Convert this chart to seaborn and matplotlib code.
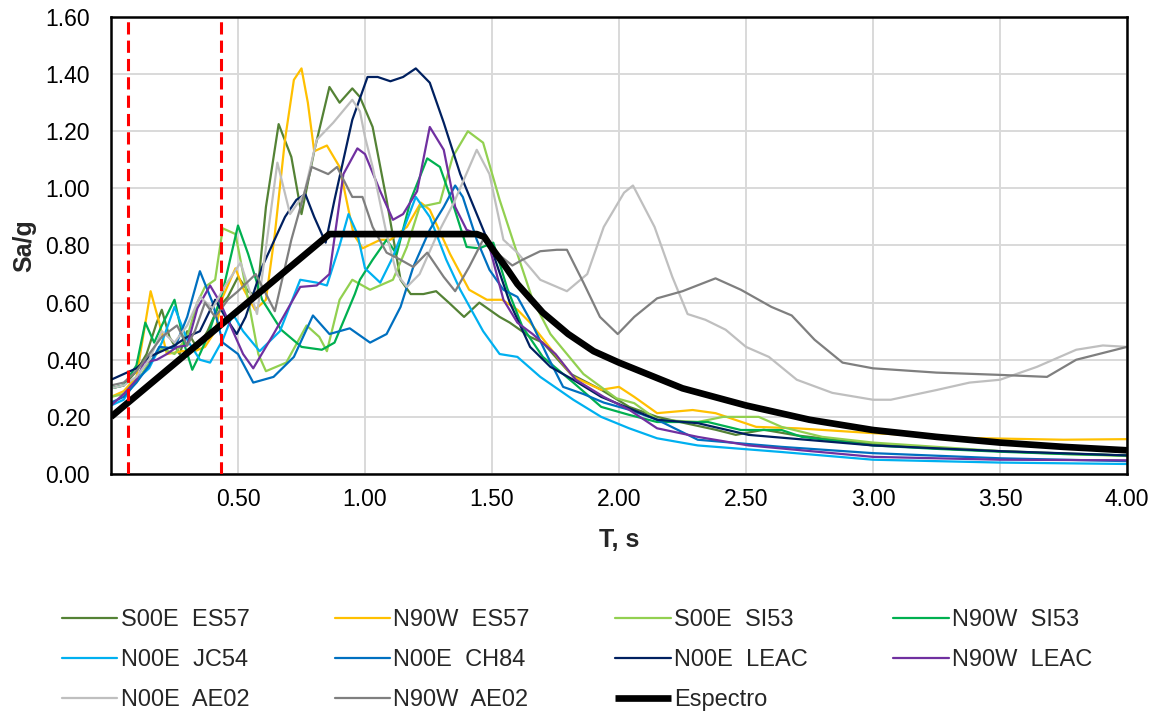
import numpy as np
import pandas as pd
import matplotlib
matplotlib.use("Agg")
import matplotlib.pyplot as plt
import seaborn as sns

# ---------------- data ----------------
names = ["S00E  ES57", "N90W  ES57", "S00E  SI53", "N90W  SI53", "N00E  JC54",
         "N00E  CH84", "N00E  LEAC", "N90W  LEAC", "N00E  AE02", "N90W  AE02"]
colors = ["#548235", "#FFC000", "#92D050", "#00B050", "#00B0F0",
          "#0070C0", "#002060", "#7030A0", "#BFBFBF", "#7F7F7F"]

t_es57_s = [0, 0.05, 0.10, 0.14, 0.18, 0.20, 0.23, 0.27, 0.30, 0.34, 0.38, 0.42, 0.46, 0.50, 0.54, 0.575,
            0.61, 0.66, 0.71, 0.75, 0.80, 0.86, 0.90, 0.95, 0.98, 1.03, 1.085, 1.14, 1.18, 1.23, 1.28,
            1.33, 1.39, 1.45, 1.53, 1.57, 1.65, 1.70, 1.81, 1.93, 2.04, 2.15, 2.25, 2.38, 2.46, 2.57,
            2.70, 2.85, 3.0, 3.25, 3.5, 3.75, 4.0]
sa_es57_s = [0.30, 0.31, 0.36, 0.42, 0.53, 0.575, 0.48, 0.42, 0.50, 0.44, 0.50, 0.58, 0.62, 0.69, 0.64, 0.62,
             0.935, 1.225, 1.11, 0.91, 1.13, 1.355, 1.30, 1.35, 1.32, 1.215, 0.96, 0.68, 0.63, 0.63, 0.64,
             0.60, 0.55, 0.60, 0.55, 0.53, 0.48, 0.46, 0.35, 0.295, 0.235, 0.20, 0.18, 0.155, 0.137, 0.155,
             0.135, 0.12, 0.105, 0.09, 0.08, 0.072, 0.065]

t_es57_n = [0, 0.05, 0.10, 0.13, 0.156, 0.19, 0.22, 0.28, 0.33, 0.37, 0.41, 0.44, 0.49, 0.52, 0.567, 0.61,
            0.645, 0.685, 0.72, 0.75, 0.775, 0.80, 0.85, 0.90, 0.955, 0.99, 1.06, 1.10, 1.165, 1.22, 1.255,
            1.335, 1.41, 1.48, 1.54, 1.60, 1.65, 1.73, 1.82, 1.93, 2.0, 2.06, 2.15, 2.29, 2.38, 2.54,
            2.70, 3.0, 3.38, 3.75, 4.0]
sa_es57_n = [0.27, 0.29, 0.34, 0.50, 0.64, 0.53, 0.42, 0.43, 0.43, 0.445, 0.50, 0.62, 0.72, 0.65, 0.575, 0.61,
             0.84, 1.17, 1.38, 1.42, 1.30, 1.13, 1.15, 1.075, 0.84, 0.79, 0.82, 0.82, 0.865, 0.95, 0.925,
             0.77, 0.645, 0.61, 0.61, 0.575, 0.53, 0.44, 0.34, 0.295, 0.305, 0.27, 0.213, 0.224, 0.213, 0.165,
             0.16, 0.143, 0.126, 0.12, 0.122]

t_si53_s = [0, 0.05, 0.10, 0.15, 0.20, 0.25, 0.30, 0.34, 0.37, 0.41, 0.44, 0.465, 0.49, 0.54, 0.58, 0.61,
            0.69, 0.77, 0.82, 0.85, 0.90, 0.95, 1.02, 1.11, 1.165, 1.215, 1.295, 1.345, 1.405, 1.465, 1.53,
            1.60, 1.66, 1.73, 1.86, 1.99, 2.06, 2.15, 2.31, 2.41, 2.55, 2.64, 2.80, 3.0, 3.25, 3.5, 3.75, 4.0]
sa_si53_s = [0.27, 0.28, 0.32, 0.39, 0.44, 0.42, 0.48, 0.60, 0.655, 0.68, 0.86, 0.85, 0.84, 0.61, 0.42, 0.36,
             0.39, 0.52, 0.48, 0.43, 0.61, 0.68, 0.645, 0.68, 0.795, 0.935, 0.95, 1.11, 1.20, 1.16, 0.96,
             0.77, 0.61, 0.49, 0.35, 0.265, 0.248, 0.19, 0.182, 0.20, 0.20, 0.165, 0.13, 0.11, 0.095, 0.08,
             0.07, 0.063]

t_si53_n = [0, 0.05, 0.10, 0.135, 0.17, 0.20, 0.25, 0.29, 0.32, 0.35, 0.38, 0.44, 0.50, 0.54, 0.595, 0.67,
            0.75, 0.83, 0.88, 0.96, 0.98, 1.03, 1.085, 1.125, 1.18, 1.245, 1.295, 1.35, 1.40, 1.45, 1.505,
            1.56, 1.62, 1.70, 1.82, 1.93, 2.04, 2.15, 2.35, 2.48, 2.64, 2.72, 3.0, 3.25, 3.5, 3.75, 4.0]
sa_si53_n = [0.30, 0.31, 0.38, 0.53, 0.46, 0.52, 0.61, 0.45, 0.365, 0.42, 0.48, 0.64, 0.87, 0.77, 0.61, 0.505,
             0.445, 0.435, 0.46, 0.63, 0.68, 0.75, 0.82, 0.77, 0.96, 1.105, 1.075, 0.935, 0.795, 0.79, 0.81,
             0.65, 0.515, 0.41, 0.32, 0.235, 0.207, 0.182, 0.182, 0.154, 0.154, 0.13, 0.10, 0.088, 0.078,
             0.07, 0.065]

t_jc54 = [0, 0.05, 0.10, 0.15, 0.20, 0.25, 0.30, 0.35, 0.39, 0.44, 0.48, 0.52, 0.585, 0.665, 0.745, 0.81,
          0.85, 0.90, 0.935, 0.97, 1.0, 1.06, 1.11, 1.20, 1.255, 1.32, 1.375, 1.465, 1.53, 1.60, 1.69, 1.82,
          1.93, 2.04, 2.15, 2.31, 2.64, 3.0, 3.5, 4.0]
sa_jc54 = [0.24, 0.26, 0.33, 0.37, 0.46, 0.585, 0.47, 0.40, 0.39, 0.47, 0.56, 0.50, 0.43, 0.50, 0.68, 0.67,
           0.66, 0.80, 0.91, 0.84, 0.72, 0.67, 0.76, 0.97, 0.90, 0.75, 0.645, 0.50, 0.42, 0.41, 0.34, 0.26,
           0.20, 0.16, 0.125, 0.10, 0.077, 0.05, 0.04, 0.035]

t_ch84 = [0, 0.05, 0.10, 0.15, 0.19, 0.25, 0.30, 0.35, 0.40, 0.44, 0.50, 0.56, 0.64, 0.72, 0.795, 0.86,
          0.94, 1.02, 1.085, 1.14, 1.19, 1.255, 1.31, 1.355, 1.385, 1.44, 1.49, 1.545, 1.60, 1.65, 1.72,
          1.78, 1.86, 1.94, 2.04, 2.15, 2.31, 2.64, 3.0, 3.5, 4.0]
sa_ch84 = [0.25, 0.27, 0.32, 0.38, 0.445, 0.44, 0.55, 0.71, 0.60, 0.46, 0.42, 0.32, 0.34, 0.41, 0.555, 0.49,
           0.51, 0.46, 0.49, 0.585, 0.725, 0.855, 0.935, 1.01, 0.97, 0.82, 0.715, 0.645, 0.62, 0.54, 0.41,
           0.305, 0.28, 0.25, 0.225, 0.19, 0.12, 0.095, 0.073, 0.055, 0.045]

t_leac_n00 = [0, 0.05, 0.10, 0.15, 0.20, 0.25, 0.30, 0.35, 0.41, 0.45, 0.495, 0.53, 0.595, 0.685, 0.73,
              0.765, 0.80, 0.845, 0.88, 0.95, 1.01, 1.05, 1.10, 1.15, 1.20, 1.255, 1.31, 1.375, 1.44, 1.505,
              1.57, 1.65, 1.73, 1.82, 1.93, 2.04, 2.15, 2.31, 2.51, 3.0, 3.5, 4.0]
sa_leac_n00 = [0.33, 0.35, 0.37, 0.41, 0.43, 0.45, 0.48, 0.50, 0.61, 0.55, 0.49, 0.55, 0.725, 0.90, 0.96,
               0.98, 0.90, 0.81, 0.96, 1.24, 1.39, 1.39, 1.375, 1.39, 1.42, 1.37, 1.23, 1.05, 0.91, 0.77,
               0.60, 0.445, 0.375, 0.33, 0.27, 0.23, 0.19, 0.178, 0.137, 0.10, 0.08, 0.065]

t_leac_n90 = [0, 0.05, 0.10, 0.13, 0.18, 0.22, 0.26, 0.30, 0.34, 0.39, 0.43, 0.48, 0.52, 0.56, 0.64, 0.745,
              0.81, 0.86, 0.915, 0.97, 1.0, 1.06, 1.11, 1.15, 1.205, 1.255, 1.31, 1.355, 1.40, 1.465, 1.49,
              1.545, 1.60, 1.66, 1.75, 1.83, 1.94, 2.04, 2.15, 2.31, 2.51, 3.0, 3.5, 4.0]
sa_leac_n90 = [0.24, 0.28, 0.33, 0.39, 0.40, 0.42, 0.445, 0.45, 0.58, 0.66, 0.60, 0.50, 0.42, 0.37, 0.49,
               0.655, 0.66, 0.70, 1.05, 1.14, 1.12, 0.99, 0.89, 0.91, 0.99, 1.215, 1.135, 0.935, 0.855, 0.83,
               0.795, 0.61, 0.53, 0.49, 0.42, 0.33, 0.27, 0.225, 0.16, 0.13, 0.10, 0.06, 0.05, 0.048]

t_ae02_n00 = [0, 0.05, 0.10, 0.15, 0.20, 0.25, 0.30, 0.35, 0.40, 0.45, 0.51, 0.575, 0.655, 0.705, 0.76,
              0.81, 0.875, 0.95, 0.98, 1.0, 1.03, 1.085, 1.125, 1.165, 1.215, 1.28, 1.35, 1.44, 1.49, 1.545,
              1.60, 1.69, 1.795, 1.875, 1.94, 2.02, 2.055, 2.14, 2.21, 2.27, 2.34, 2.42, 2.50, 2.59, 2.70,
              2.84, 3.0, 3.07, 3.25, 3.38, 3.50, 3.645, 3.80, 3.905, 4.0]
sa_ae02_n00 = [0.30, 0.31, 0.34, 0.40, 0.50, 0.46, 0.52, 0.62, 0.58, 0.66, 0.74, 0.56, 1.09, 0.91, 0.98,
               1.17, 1.23, 1.31, 1.27, 1.18, 1.075, 0.84, 0.70, 0.655, 0.70, 0.83, 0.95, 1.135, 1.05, 0.82,
               0.775, 0.68, 0.64, 0.70, 0.865, 0.985, 1.01, 0.865, 0.69, 0.56, 0.54, 0.505, 0.445, 0.41,
               0.33, 0.284, 0.26, 0.26, 0.294, 0.32, 0.33, 0.375, 0.435, 0.45, 0.445]

t_ae02_n90 = [0, 0.05, 0.10, 0.15, 0.20, 0.26, 0.30, 0.33, 0.37, 0.41, 0.46, 0.50, 0.57, 0.645, 0.71, 0.79,
              0.855, 0.89, 0.95, 0.99, 1.03, 1.085, 1.14, 1.19, 1.245, 1.31, 1.355, 1.41, 1.465, 1.51, 1.58,
              1.62, 1.69, 1.755, 1.795, 1.86, 1.925, 1.995, 2.06, 2.15, 2.25, 2.38, 2.48, 2.60, 2.68, 2.77,
              2.88, 3.0, 3.25, 3.5, 3.685, 3.80, 4.0]
sa_ae02_n90 = [0.31, 0.32, 0.36, 0.42, 0.48, 0.52, 0.45, 0.50, 0.60, 0.55, 0.61, 0.64, 0.70, 0.57, 0.82,
               1.075, 1.05, 1.075, 0.97, 0.97, 0.865, 0.775, 0.75, 0.725, 0.775, 0.69, 0.64, 0.725, 0.82,
               0.78, 0.73, 0.75, 0.78, 0.785, 0.785, 0.67, 0.55, 0.49, 0.55, 0.615, 0.64, 0.685, 0.645,
               0.585, 0.555, 0.47, 0.39, 0.37, 0.355, 0.347, 0.34, 0.40, 0.445]

t_espectro = [0, 0.86, 1.44, 1.47, 1.50, 1.55, 1.60, 1.70, 1.80, 1.90, 2.0, 2.25, 2.5, 2.75, 3.0, 3.25,
              3.5, 3.75, 4.0]
sa_espectro = [0.20, 0.84, 0.84, 0.83, 0.79, 0.73, 0.665, 0.565, 0.49, 0.43, 0.39, 0.30, 0.24, 0.19, 0.154,
               0.13, 0.11, 0.095, 0.083]

t_limits = [0.068, 0.432]

x_ticks = [0.5, 1.0, 1.5, 2.0, 2.5, 3.0, 3.5, 4.0]
y_ticks = [0.0, 0.2, 0.4, 0.6, 0.8, 1.0, 1.2, 1.4, 1.6]

series_t = [t_es57_s, t_es57_n, t_si53_s, t_si53_n, t_jc54, t_ch84, t_leac_n00, t_leac_n90, t_ae02_n00, t_ae02_n90]
series_sa = [sa_es57_s, sa_es57_n, sa_si53_s, sa_si53_n, sa_jc54, sa_ch84, sa_leac_n00, sa_leac_n90,
             sa_ae02_n00, sa_ae02_n90]

# ---------------- plot ----------------
sns.set_theme(style="white")
plt.rcParams['font.family'] = ['Liberation Sans', 'DejaVu Sans']

fig = plt.figure(figsize=(11.54, 7.15), dpi=100)
ax = fig.add_axes([111/1154, 1 - 474/715, (1127 - 111)/1154, (474 - 17)/715])

df = pd.concat([pd.DataFrame({"T": t, "Sa": s, "registro": n})
                for t, s, n in zip(series_t, series_sa, names)], ignore_index=True)
sns.lineplot(data=df, x="T", y="Sa", hue="registro", hue_order=names, palette=colors,
             sort=False, estimator=None, linewidth=1.6, ax=ax, legend=False)

sns.lineplot(x=t_espectro, y=sa_espectro, color="black", linewidth=4.8, sort=False,
             estimator=None, ax=ax, solid_capstyle="butt")

for tl in t_limits:
    ax.axvline(tl, color="#FF0000", linewidth=2.2, linestyle=(0, (4, 2)), zorder=5)

ax.set_xlim(0, 4)
ax.set_ylim(0, 1.6)
ax.set_xticks(x_ticks)
ax.set_xticklabels([f"{v:.2f}" for v in x_ticks])
ax.set_yticks(y_ticks)
ax.set_yticklabels([f"{v:.2f}" for v in y_ticks])
ax.grid(True, color="#D9D9D9", linewidth=1.4)
ax.set_axisbelow(True)
for sp in ax.spines.values():
    sp.set_color("black")
    sp.set_linewidth(1.8)
ax.tick_params(axis="both", length=0, labelsize=16.5, colors="black")
ax.tick_params(axis="y", pad=15)
ax.tick_params(axis="x", pad=10)
ax.set_xlabel("T, s", fontsize=18, fontweight="bold", labelpad=12)
ax.set_ylabel("Sa/g", fontsize=18, fontweight="bold", labelpad=7)

handles = list(ax.lines[:11])
labels = names + ["Espectro"]
order = [0, 4, 8, 1, 5, 9, 2, 6, 10, 3, 7]
fig.legend([handles[i] for i in order], [labels[i] for i in order],
           loc="upper left", bbox_to_anchor=(62/1154, 1 - 609/715), ncol=4, frameon=False,
           fontsize=17, handlelength=2.35, handletextpad=0.13, columnspacing=3.62,
           labelspacing=0.76, borderaxespad=0, borderpad=0)

fig.savefig("out.png", dpi=100)
